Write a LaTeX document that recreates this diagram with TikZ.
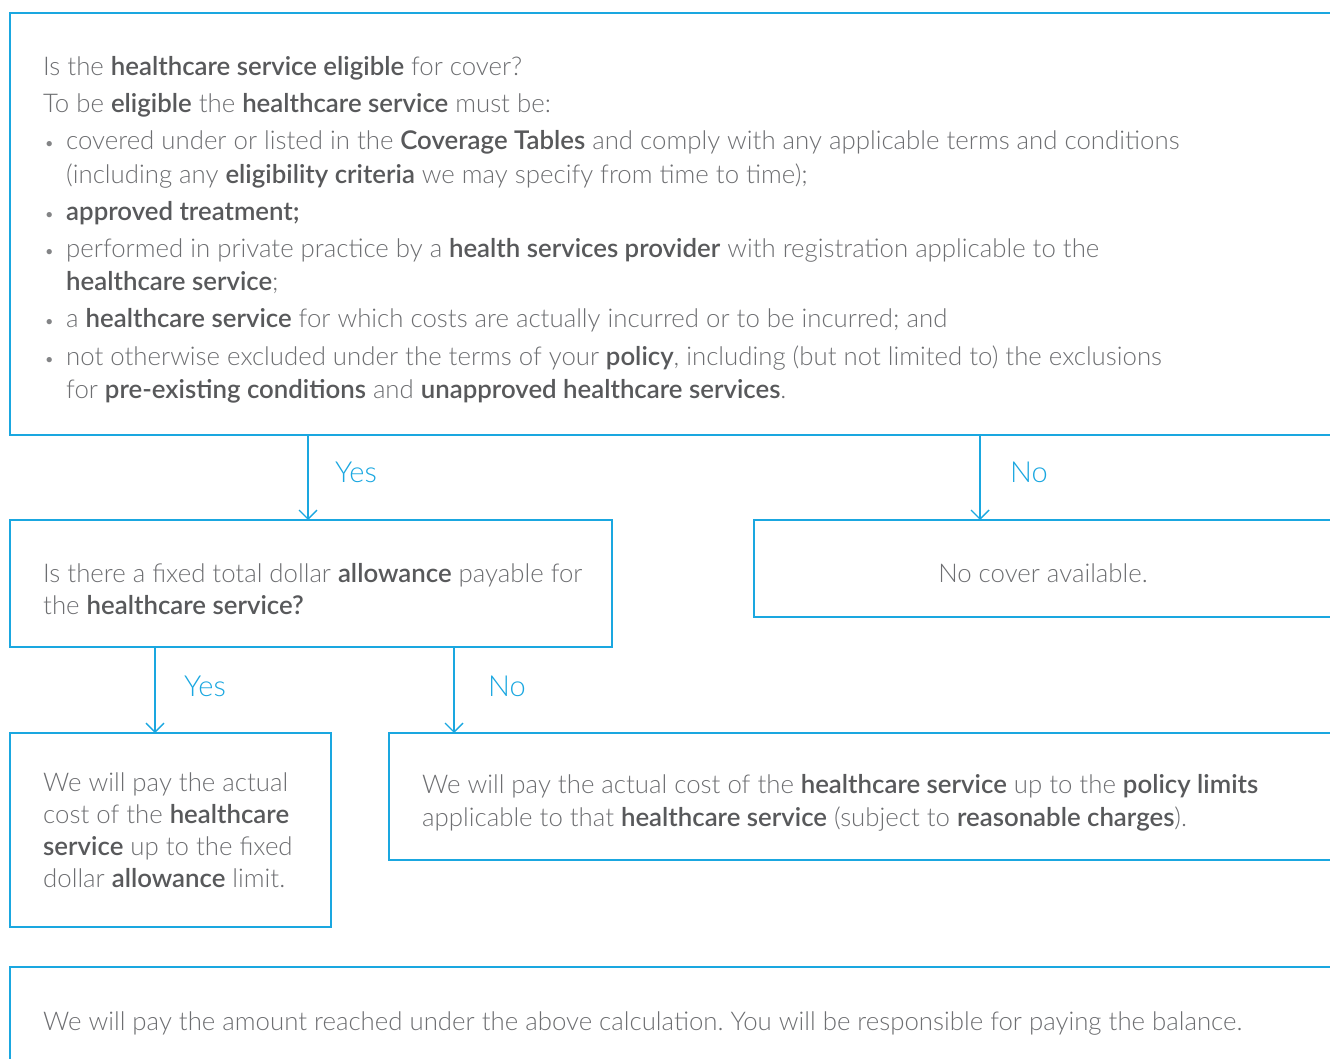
\documentclass[tikz,border=0pt]{standalone}
\usepackage{fontspec}
\setmainfont{Lato}[UprightFont=* Light, BoldFont=* Semibold]
\usetikzlibrary{arrows.meta}
\definecolor{flowblue}{HTML}{1AA7E0}
\definecolor{bodygray}{HTML}{6D6E71}
\definecolor{boldgray}{HTML}{58595B}
\newcommand{\hl}[1]{{\bfseries\color{boldgray}#1}}
\frenchspacing
\tikzset{
  box/.style={draw=flowblue, line width=1.4pt},
  txt/.style={anchor=mid west, inner sep=0pt, text=bodygray, font=\fontsize{25.8}{30}\selectfont},
  lbl/.style={anchor=mid west, inner sep=0pt, text=flowblue, font=\fontsize{29}{34}\selectfont},
  bul/.style={anchor=mid west, inner sep=0pt, text=bodygray!85, font=\fontsize{18}{22}\selectfont},
  flow/.style={draw=flowblue, line width=1.4pt, -{Straight Barb[length=9pt, width=18pt, line width=1.4pt]}},
}
\begin{document}
\begin{tikzpicture}[x=1pt, y=-1pt]
\useasboundingbox (0,0) rectangle (1330,1059);
\clip (0,0) rectangle (1330,1059);

% boxes (those on the right run off the page)
\draw[box] (10,13) rectangle (1345,435);
\draw[box] (10,520) rectangle (612,647);
\draw[box] (754,520) rectangle (1345,617);
\draw[box] (10,733) rectangle (331,927);
\draw[box] (389,733) rectangle (1345,860);
\draw[box] (10,967) rectangle (1345,1075);

% anchor points for connectors
\coordinate (q1y) at (308,435);
\coordinate (q2top) at (308,520);
\coordinate (q1n) at (980,435);
\coordinate (nctop) at (980,520);
\coordinate (q2y) at (155,647);
\coordinate (alltop) at (155,733);
\coordinate (q2n) at (454,647);
\coordinate (limtop) at (454,733);

\draw[flow] (q1y) -- (q2top);
\draw[flow] (q1n) -- (nctop);
\draw[flow] (q2y) -- (alltop);
\draw[flow] (q2n) -- (limtop);

\node[lbl] (l1) at (335,480) {Yes};
\node[lbl] (l2) at (1010,480) {No};
\node[lbl] (l3) at (184,694) {Yes};
\node[lbl] (l4) at (488,694) {No};

% eligibility question
\node[txt] (t1) at (43,73) {Is the \hl{healthcare service eligible} for cover?};
\node[txt] (t2) at (43,110) {To be \hl{eligible} the \hl{healthcare service} must be:};
\node[bul] (b1) at (44,147) {•};
\node[txt] (t3) at (66,147) {covered under or listed in the \hl{Coverage Tables} and comply with any applicable terms and conditions};
\node[txt] (t4) at (66,181) {(including any \hl{eligibility criteria} we may specify from time to time);};
\node[bul] (b2) at (44,218) {•};
\node[txt] (t5) at (66,218) {\hl{approved treatment;}};
\node[bul] (b3) at (44,255) {•};
\node[txt] (t6) at (66,255) {performed in private practice by a \hl{health services provider} with registration applicable to the};
\node[txt] (t7) at (66,288) {\hl{healthcare service};};
\node[bul] (b4) at (44,325) {•};
\node[txt] (t8) at (66,325) {a \hl{healthcare service} for which costs are actually incurred or to be incurred; and};
\node[bul] (b5) at (44,363) {•};
\node[txt] (t9) at (66,363) {not otherwise excluded under the terms of your \hl{policy}, including (but not limited to) the exclusions};
\node[txt] (t10) at (66,396) {for \hl{pre-existing conditions} and \hl{unapproved healthcare services}.};

% allowance question
\node[txt] (a1) at (43,580) {Is there a fixed total dollar \hl{allowance} payable for};
\node[txt] (a2) at (43,612) {the \hl{healthcare service?}};

% no cover
\node[txt, anchor=mid] (nc) at (1043,580) {No cover available.};

% allowance outcome
\node[txt] (w1) at (43,789) {We will pay the actual};
\node[txt] (w2) at (43,821) {cost of the \hl{healthcare}};
\node[txt] (w3) at (43,853) {\hl{service} up to the fixed};
\node[txt] (w4) at (43,885) {dollar \hl{allowance} limit.};

% policy limits outcome
\node[txt] (p1) at (422,791) {We will pay the actual cost of the \hl{healthcare service} up to the \hl{policy limits}};
\node[txt] (p2) at (422,824) {applicable to that \hl{healthcare service} (subject to \hl{reasonable charges}).};

% final note
\node[txt] (f1) at (43,1028) {We will pay the amount reached under the above calculation. You will be responsible for paying the balance.};
\end{tikzpicture}
\end{document}
